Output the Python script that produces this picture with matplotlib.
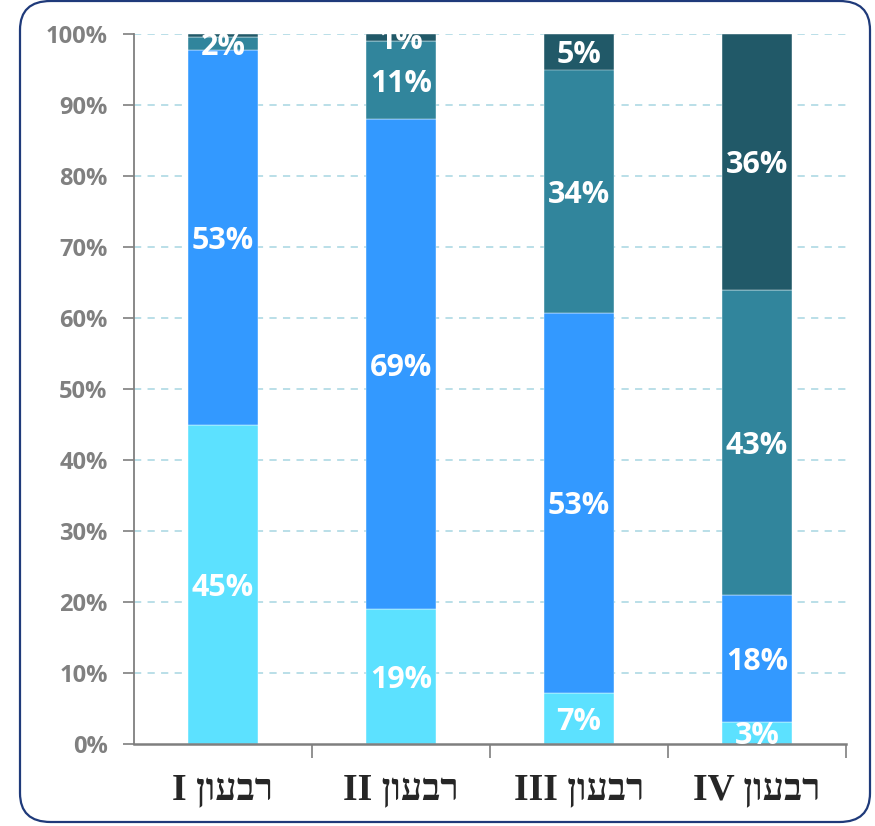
import numpy as np
import matplotlib.pyplot as plt
from matplotlib.patches import FancyBboxPatch

# data (percent of total, bottom -> top)
cats = ['I', 'II', 'III', 'IV']
word = 'רבעון'
s1 = [45.0, 19.0, 7.2, 3.1]     # light cyan
s2 = [52.8, 69.0, 53.5, 17.9]   # blue
s3 = [1.8, 11.0, 34.3, 43.0]    # teal
s4 = [0.4, 1.0, 5.0, 36.0]      # dark
lab1 = ['45%', '19%', '7%', '3%']
lab2 = ['53%', '69%', '53%', '18%']
lab3 = ['2%', '11%', '34%', '43%']
lab4 = [None, '1%', '5%', '36%']

colors = ['#5CE1FF', '#3399FF', '#31859C', '#215968']

fig = plt.figure(figsize=(8.75, 8.26), dpi=100)

# rounded frame
W, H = 875, 826
frame = FancyBboxPatch((20 / W, 4 / H), 850 / W, 821 / H,
                       boxstyle='round,pad=0,rounding_size=0.035',
                       transform=fig.transFigure, facecolor='white',
                       edgecolor='#1F3A7A', linewidth=1.6, zorder=-5)
fig.patches.append(frame)

ax = fig.add_axes([134 / W, 82 / H, 712 / W, 710 / H])
ax.set_facecolor('none')
ax.set_zorder(2)

x = np.arange(len(cats))
series = [s1, s2, s3, s4]
labels = [lab1, lab2, lab3, lab4]
bottom = np.zeros(len(cats))
for vals, labs, c in zip(series, labels, colors):
    vals = np.array(vals)
    ax.bar(x, vals, 0.39, bottom=bottom, color=c, edgecolor='white',
           linewidth=0.3, zorder=2)
    for xi, v, b, t in zip(x, vals, bottom, labs):
        if t is None:
            continue
        txt = ax.text(xi, b + v / 2, t, ha='center', va='center_baseline',
                      color='white', fontsize=22, fontweight='bold',
                      family='Open Sans', zorder=3)
        txt.set_clip_on(True)
    bottom = bottom + vals

ax.set_xlim(-0.5, len(cats) - 0.5)
ax.set_ylim(0, 100)

yt = np.arange(0, 101, 10)
ax.set_yticks(yt)
ax.set_yticklabels([f'{v}%' for v in yt], color='#808080', fontsize=17,
                   fontweight='bold', family='Open Sans')
for v in yt[1:]:
    ax.axhline(v, color='#B4DCE6', linestyle=(0, (4, 3.5)), linewidth=1.3,
               zorder=1)

# category boundaries as ticks
ax.set_xticks(np.arange(0.5, len(cats) - 0.4, 1.0))
ax.set_xticklabels([])
ax.tick_params(axis='x', length=10, width=1.2, color='#7F7F7F', direction='out')
ax.tick_params(axis='y', length=8, width=1.2, color='#7F7F7F', direction='out', pad=11)

for xi, c in zip(x, cats):
    ax.text(xi, -6.4, c + ' ' + word[::-1], ha='center', va='center',
            fontsize=27, fontweight='bold', color='#262626',
            family=['Liberation Serif', 'DejaVu Sans'],
            transform=ax.transData, clip_on=False)

for side in ['top', 'right']:
    ax.spines[side].set_visible(False)
ax.spines['left'].set_color('#7F7F7F')
ax.spines['bottom'].set_color('#7F7F7F')
ax.spines['left'].set_linewidth(1.3)
ax.spines['bottom'].set_linewidth(1.8)

fig.savefig('out.png', dpi=100)
